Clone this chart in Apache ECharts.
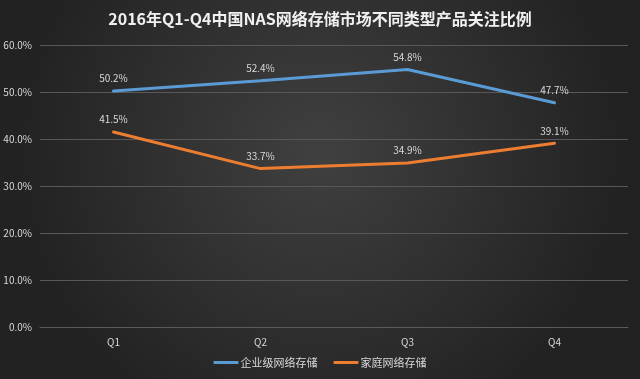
<!DOCTYPE html>
<html><head><meta charset="utf-8">
<script src="https://cdn.jsdelivr.net/npm/echarts@6/dist/echarts.min.js"></script>
<style>html,body{margin:0;padding:0;background:#2e2e2e}#c{width:640px;height:379px}</style>
</head><body><div id="c"></div>
<script>
const categories = ['Q1','Q2','Q3','Q4'];
const enterprise = [50.2, 52.4, 54.8, 47.7];
const home = [41.5, 33.7, 34.9, 39.1];
const seriesNames = ['企业级网络存储','家庭网络存储'];
const yTicks = [0,10,20,30,40,50,60];

const chart = echarts.init(document.getElementById('c'), null, {renderer:'canvas'});
const font = '"Noto Sans CJK SC", "Noto Sans", sans-serif';
const lbl = {show:true, position:'top', distance:7, color:'#d9d9d9', fontSize:10, formatter:p=>p.value.toFixed(1)+'%'};
chart.setOption({
  backgroundColor: {type:'radial', x:0.5, y:0.4, r:0.8, colorStops:[{offset:0,color:'#404040'},{offset:1,color:'#222222'}]},
  textStyle:{fontFamily:font},
  title:{text:'2016年Q1-Q4中国NAS网络存储市场不同类型产品关注比例', left:'center', top:6,
    textStyle:{color:'#f0f0f0', fontSize:16, fontWeight:'bold', fontFamily:font}},
  legend:{data:seriesNames, bottom:6, left:'center', itemWidth:25, itemHeight:3, itemGap:16, icon:'roundRect',
    textStyle:{color:'#d9d9d9', fontSize:11, padding:[0,0,0,-3]}},
  grid:{left:40, right:12, top:45, bottom:52},
  xAxis:{type:'category', data:categories, boundaryGap:true,
    axisLine:{show:true, lineStyle:{color:'#5a5a5a'}}, axisTick:{show:false},
    axisLabel:{color:'#d9d9d9', fontSize:10, margin:10}},
  yAxis:{type:'value', min:yTicks[0], max:yTicks[yTicks.length-1], interval:10,
    axisLine:{show:false}, axisTick:{show:false},
    axisLabel:{color:'#d9d9d9', fontSize:10, formatter:v=>v.toFixed(1)+'%'},
    splitLine:{lineStyle:{color:'#585858', width:1}}},
  series:[
    {name:seriesNames[0], type:'line', data:enterprise, showSymbol:true, symbol:'circle', symbolSize:1,
      lineStyle:{color:'#5b9bd5', width:3, cap:'round'}, itemStyle:{color:'#5b9bd5'}, label:lbl},
    {name:seriesNames[1], type:'line', data:home, showSymbol:true, symbol:'circle', symbolSize:1,
      lineStyle:{color:'#ed7d31', width:3, cap:'round'}, itemStyle:{color:'#ed7d31'}, label:lbl}
  ]
});
</script></body></html>
